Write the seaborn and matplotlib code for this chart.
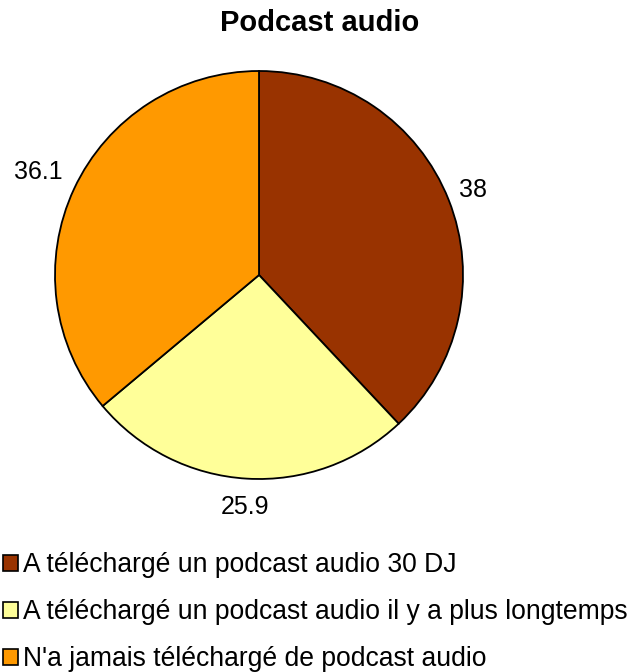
import matplotlib
matplotlib.use("Agg")
import matplotlib.pyplot as plt
from matplotlib.patches import Patch
import seaborn as sns

categories = [
    "A téléchargé un podcast audio 30 DJ",
    "A téléchargé un podcast audio il y a plus longtemps",
    "N'a jamais téléchargé de podcast audio",
]
values = [38, 25.9, 36.1]
value_labels = ["38", "25.9", "36.1"]
colors = ["#993300", "#FFFF99", "#FF9900"]

sns.set_theme(style="white")
plt.rcParams["font.family"] = ["Liberation Sans", "DejaVu Sans"]
plt.rcParams["text.color"] = "black"

W, H = 632, 672
fig = plt.figure(figsize=(W / 100, H / 100), dpi=100)
fig.patch.set_facecolor("white")

# pie occupies a square region centred at (259, 275) px with radius 204 px
cx, cy, r = 259, 275, 204
ax = fig.add_axes([(cx - r) / W, (H - cy - r) / H, 2 * r / W, 2 * r / H])

wedges, texts = ax.pie(
    values,
    labels=value_labels,
    colors=colors,
    startangle=90,
    counterclock=False,
    labeldistance=1.0,
    wedgeprops=dict(edgecolor="black", linewidth=1.3),
    textprops=dict(fontsize=18, color="black"),
)
# push each value label outward from the rim
label_dist = [1.13, 1.14, 1.195]
for t, d in zip(texts, label_dist):
    x, y = t.get_position()
    t.set_position((x * d, y * d))
    t.set_ha("center")
    t.set_va("center")
ax.set_xlim(-1, 1)
ax.set_ylim(-1, 1)
ax.set_aspect("equal")

fig.text(0.505, 1 - 23 / H, "Podcast audio", ha="center", va="center",
         fontsize=21, fontweight="bold", color="black")

handles = [Patch(facecolor=c, edgecolor="black", linewidth=1.2) for c in colors]
leg = fig.legend(
    handles, categories,
    loc="upper left", bbox_to_anchor=(3 / W, 1 - 552 / H),
    frameon=False, fontsize=19.1,
    handlelength=0.55, handleheight=0.55, handletextpad=0.2,
    labelspacing=0.8, borderpad=0, borderaxespad=0,
)
for txt in leg.get_texts():
    txt.set_color("black")

fig.savefig("out.png", dpi=100)
